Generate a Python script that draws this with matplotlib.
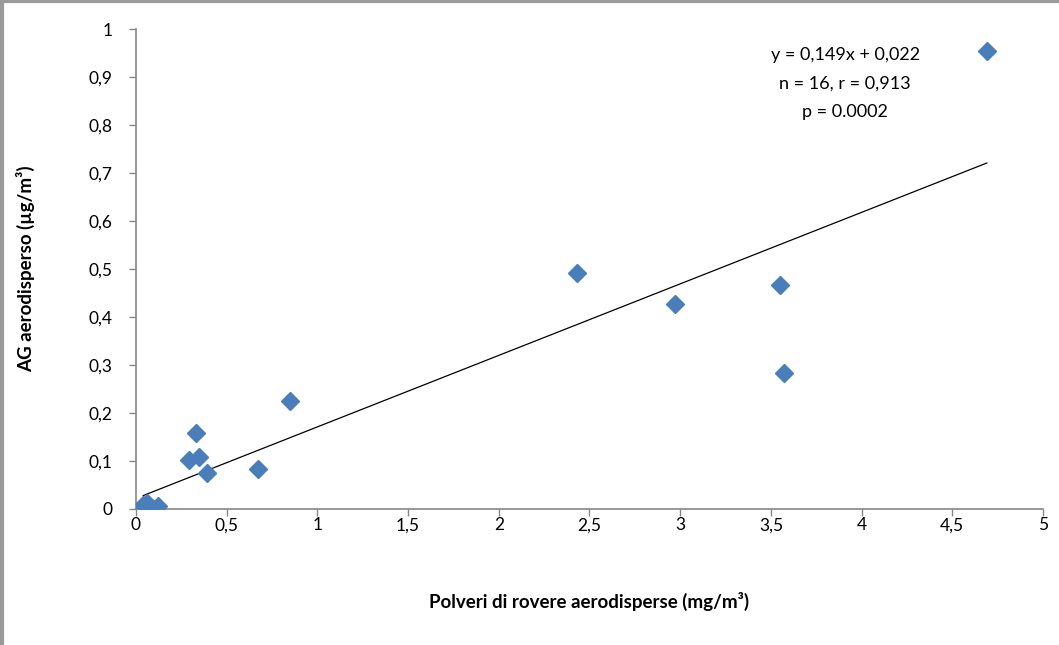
import numpy as np
import matplotlib
matplotlib.use('agg')
import matplotlib.pyplot as plt
from matplotlib.lines import Line2D

plt.rcParams['font.family'] = ['Lato', 'DejaVu Sans']

# dust (mg/m3) vs AG (ug/m3)
polveri = [0.04, 0.06, 0.08, 0.10, 0.12, 0.29, 0.33, 0.35, 0.39,
           0.67, 0.85, 2.43, 2.97, 3.55, 3.57, 4.69]
ag = [0.008, 0.012, 0.002, 0.000, 0.006, 0.102, 0.158, 0.108, 0.074,
      0.084, 0.226, 0.491, 0.427, 0.466, 0.284, 0.955]

slope = 0.149
intercept = 0.022

x_ticks = [0, 0.5, 1, 1.5, 2, 2.5, 3, 3.5, 4, 4.5, 5]
y_ticks = [0, 0.1, 0.2, 0.3, 0.4, 0.5, 0.6, 0.7, 0.8, 0.9, 1]


def virgola(v):
    return ('%g' % v).replace('.', ',')


fig = plt.figure(figsize=(10.59, 6.45), dpi=100)
ax = fig.add_axes([0.1284, 0.2109, 0.8565, 0.7441])

ax.plot(polveri, ag, linestyle='none', marker='D', markersize=9.5,
        color='#4A7EBB', markeredgecolor='#4A7EBB', zorder=3)

xl = np.array([min(polveri), max(polveri)])
ax.plot(xl, slope * xl + intercept, color='black', linewidth=0.9, zorder=2)

ax.set_xlim(0, 5)
ax.set_ylim(0, 1)
ax.set_xticks(x_ticks)
ax.set_yticks(y_ticks)
ax.set_xticklabels([virgola(v) for v in x_ticks])
ax.set_yticklabels([virgola(v) for v in y_ticks])
ax.tick_params(direction='out', length=5, width=1, color='#868686',
               labelsize=12.5)
ax.tick_params(axis='x', pad=1)
ax.tick_params(axis='y', pad=12)

for s in ['top', 'right']:
    ax.spines[s].set_visible(False)
for s in ['left', 'bottom']:
    ax.spines[s].set_color('#868686')
    ax.spines[s].set_linewidth(1.2)

ax.set_xlabel('Polveri di rovere aerodisperse (mg/m³)', fontsize=13.5,
              fontweight='bold', labelpad=42)
ax.set_ylabel('AG aerodisperso (µg/m³)', fontsize=13.5, fontweight='bold',
              labelpad=38)

ax.text(3.91, 0.886, 'y = 0,149x + 0,022\nn = 16, r = 0,913\np = 0.0002',
        ha='center', va='center', fontsize=13, linespacing=1.95)

# grey frame edges on top and left
fig.add_artist(Line2D([0.0015, 0.0015], [0, 1], color='#9a9a9a', linewidth=3,
                      transform=fig.transFigure))
fig.add_artist(Line2D([0, 1], [0.998, 0.998], color='#9a9a9a', linewidth=3,
                      transform=fig.transFigure))

fig.savefig('out.png', dpi=100)
